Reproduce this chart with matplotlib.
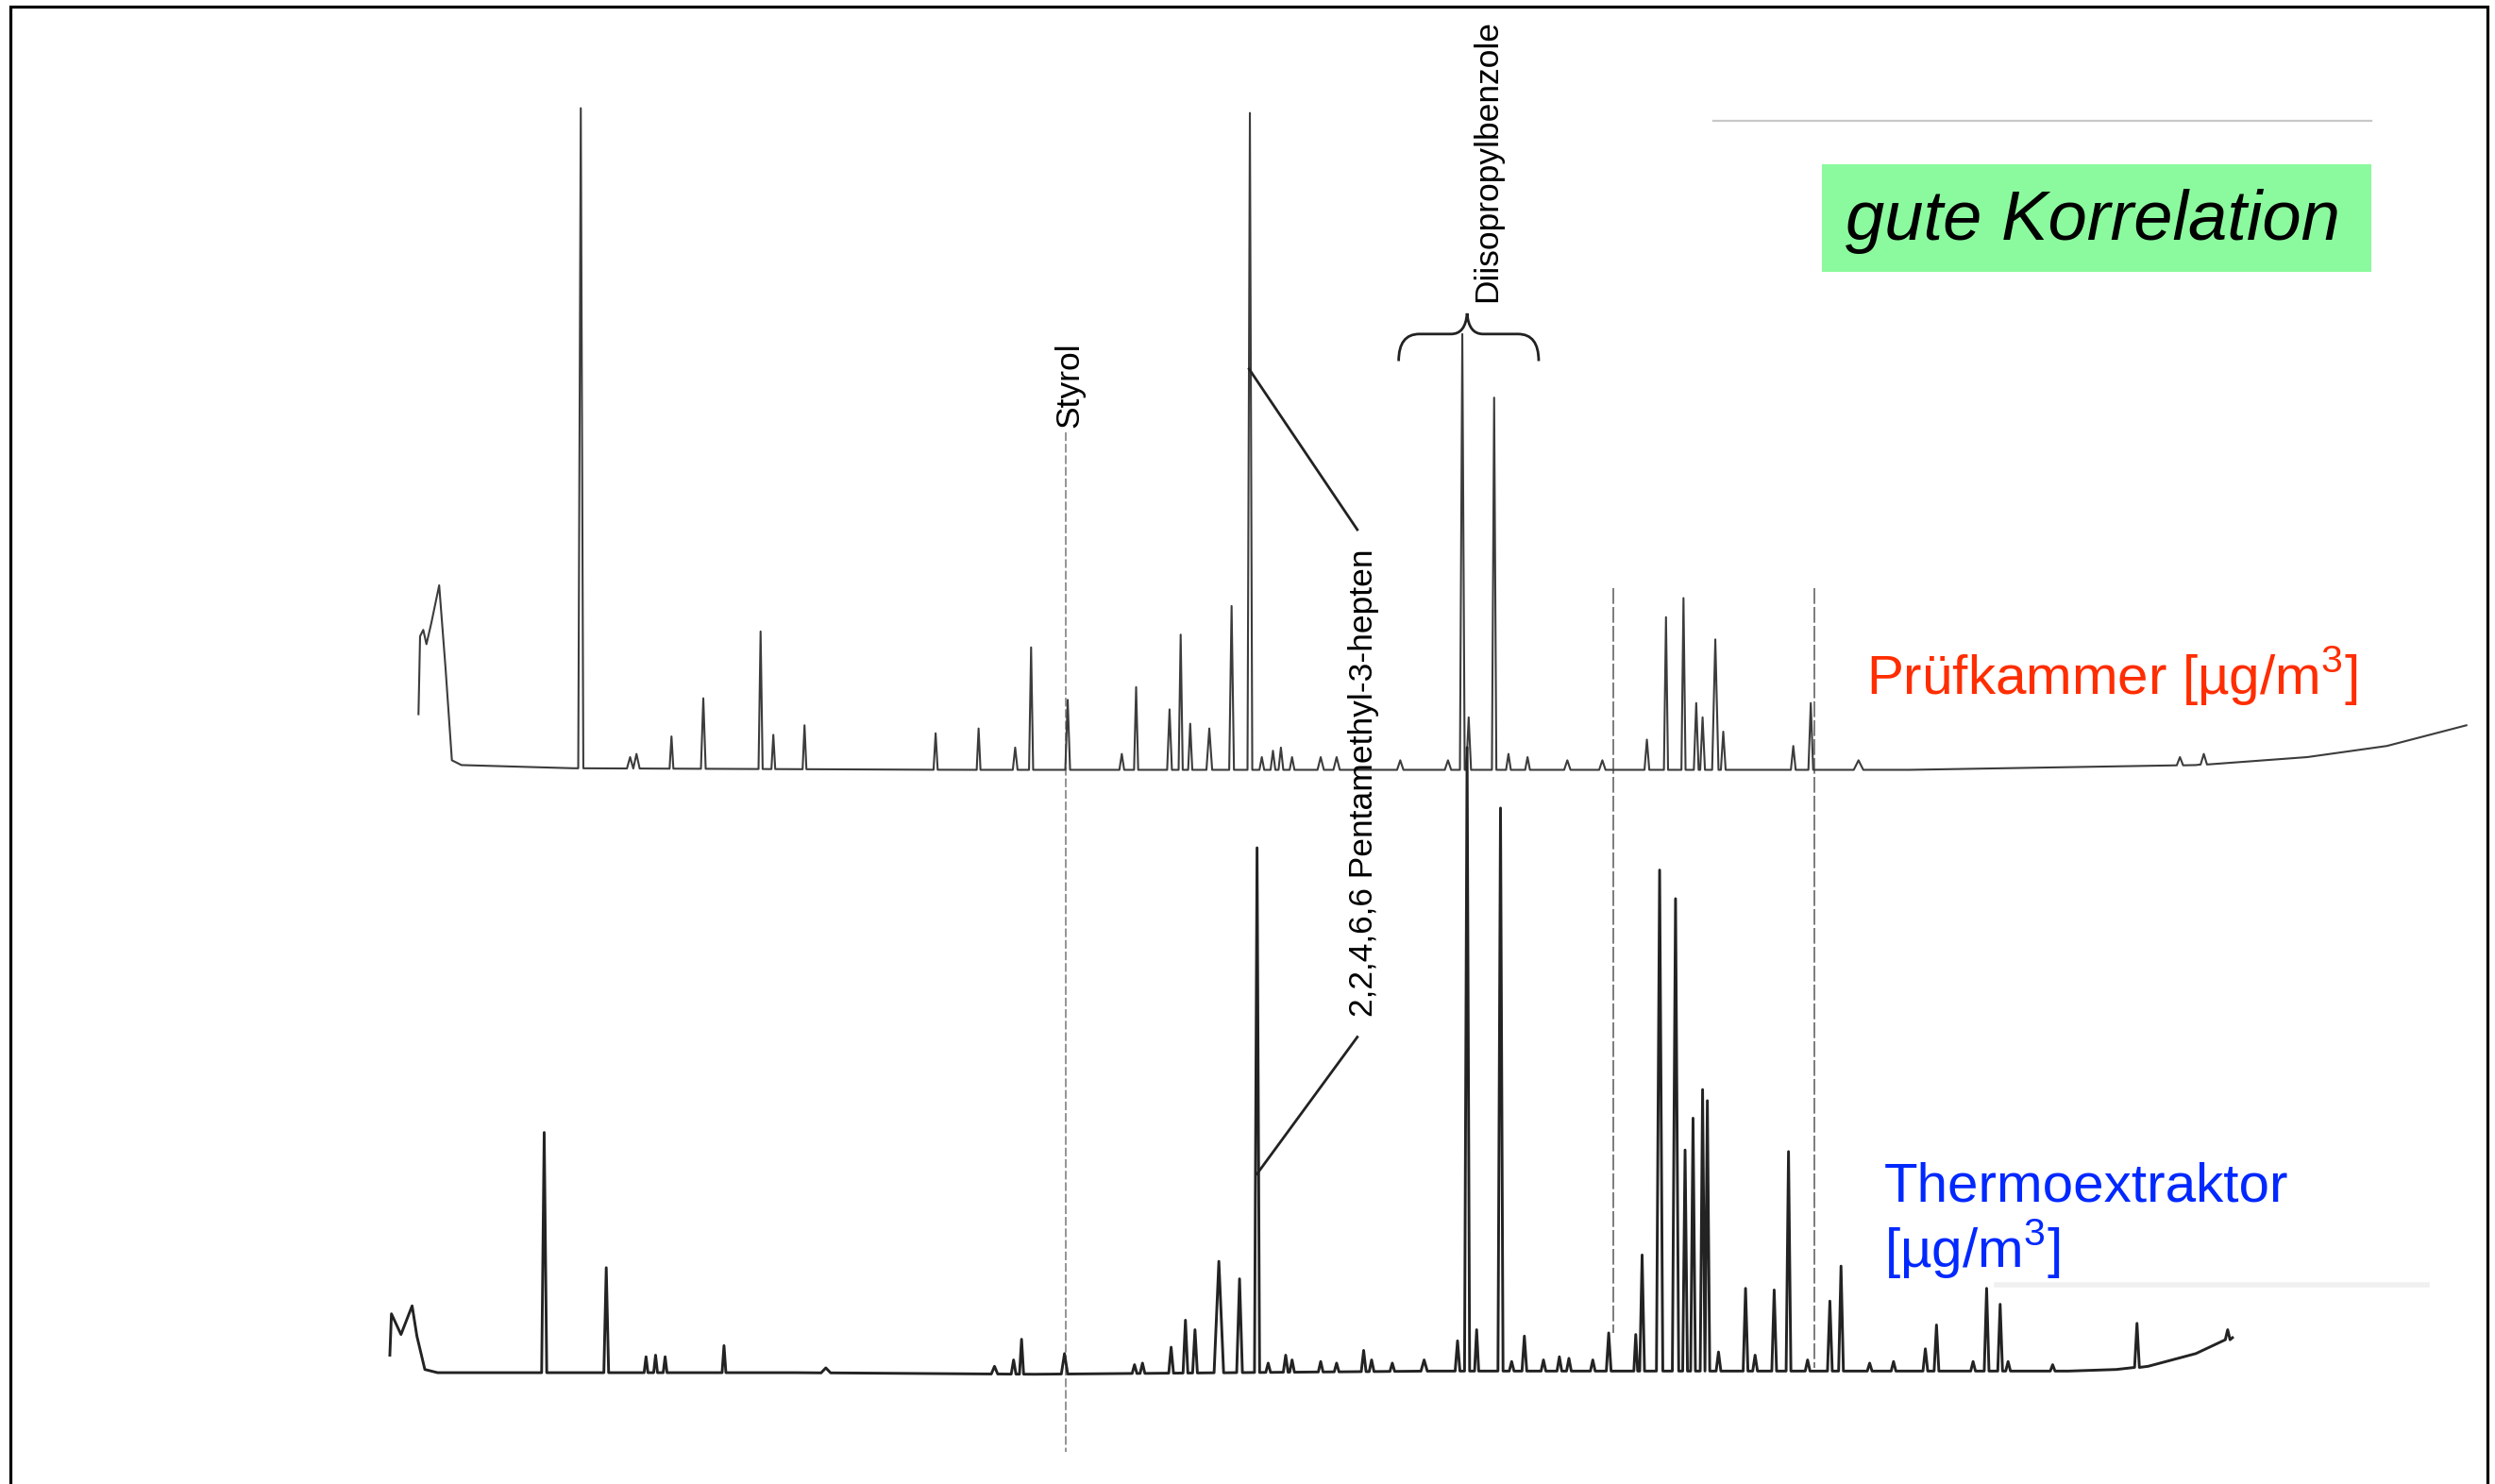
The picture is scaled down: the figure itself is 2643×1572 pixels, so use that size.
import numpy as np
import matplotlib
matplotlib.use("Agg")
import matplotlib.pyplot as plt
from matplotlib.path import Path
from matplotlib.patches import PathPatch, Rectangle

plt.rcParams["font.family"] = ["Liberation Sans", "DejaVu Sans"]
plt.rcParams["mathtext.fontset"] = "custom"
plt.rcParams["mathtext.rm"] = "Liberation Sans"

#=================
# data (page units: x = retention, y = signal level)
#=================
# Pruefkammer trace: baseline knots incl. solvent hump
top_base_x = [263, 264, 266, 268, 271, 276, 280, 284, 290, 360, 600, 900, 1200, 1380, 1450, 1500, 1550]
top_base_y = [449, 400, 396, 405, 392, 368, 420, 478, 481, 483, 484, 484, 484, 481, 476, 469, 456]

top_peak_x = [365, 396, 400, 422, 442, 478, 486, 505.6, 588, 615, 638, 648, 671,
              705, 714, 735, 742, 748, 760, 774, 785.5, 793, 800, 805, 812, 830, 840,
              880, 910, 919, 923, 939, 948, 960, 985, 1007, 1035, 1047, 1058, 1066,
              1070, 1078, 1083, 1127, 1138, 1168, 1370, 1385]
top_peak_y = [68, 476, 474, 463, 439, 397, 462, 456, 461, 458, 470, 407, 440,
              474, 432, 446, 399, 455, 458, 381, 71, 476, 472, 470, 476, 476, 476,
              478, 478, 210, 451, 250, 474, 476, 478, 478, 465, 388, 376, 442,
              451, 402, 460, 469, 442, 478, 476, 474]
top_peak_w = [1.6, 2, 2, 1.2, 1.5, 1.3, 1.2, 1.2, 1.3, 1.2, 1.5, 1.3, 1.5,
              1.5, 1.3, 1.5, 1.3, 1.3, 1.8, 1.5, 1.5, 1.5, 1.5, 1.5, 1.5, 2, 2,
              2, 2, 1.5, 1.5, 1.4, 1.5, 1.5, 2, 2, 1.5, 1.3, 1.3, 1.5,
              1.5, 2, 1.5, 1.5, 1.5, 3, 2, 2]

# Thermoextraktor trace
bot_base_x = [245, 246, 252, 259, 262, 267, 275, 500, 650, 900, 1100, 1300, 1330, 1350, 1380, 1403]
bot_base_y = [852, 826, 839, 821, 840, 861, 863, 863, 864, 862, 862, 862, 861, 859, 851, 841]

bot_peak_x = [342, 381, 406, 412, 418, 455, 519, 625, 637, 642, 669, 713, 718,
              736, 745, 751, 766, 779, 790, 797, 808, 812, 830, 840, 857, 862, 875,
              895, 916, 922, 928, 943, 950, 958, 970, 980, 986, 1001, 1011, 1028,
              1032, 1043, 1053, 1059, 1064, 1070, 1073, 1080, 1097, 1103, 1115, 1124,
              1136, 1150, 1157, 1175, 1190, 1210, 1217, 1240, 1248.5, 1257, 1262,
              1290, 1343, 1400]
bot_peak_y = [712, 797, 853, 852, 853, 846, 860, 859, 855, 842, 851, 858, 857,
              847, 830, 836, 793, 804, 533, 857, 852, 855, 856, 857, 849, 855, 857,
              855, 843, 470, 836, 508, 856, 840, 855, 853, 854, 855, 838, 839,
              789, 547, 565, 723, 703, 685, 692, 850, 810, 852, 811, 724,
              855, 818, 796, 857, 856, 848, 833, 856, 810, 820, 856,
              858, 832, 836]
bot_peak_w = [1.6, 1.5, 1.2, 1.2, 1.2, 1.2, 3, 2, 1.5, 1.3, 2, 1.5, 1.5,
              1.5, 1.5, 1.5, 3, 1.8, 1.6, 1.5, 1.5, 1.5, 1.5, 1.5, 1.5, 1.5, 1.5,
              2, 1.5, 1.6, 1.3, 1.6, 1.5, 1.5, 1.5, 1.5, 1.5, 1.5, 1.5, 1.2,
              1.5, 2, 2, 1.5, 1.5, 1.5, 1.5, 1.5, 1.5, 1.5, 1.5, 1.5,
              1.5, 1.5, 1.5, 1.5, 1.5, 1.5, 1.5, 1.5, 1.5, 1.5, 1.5,
              1.5, 1.5, 1.5]

# compound labels: (name, x, y)
label_names = ["Styrol", "Diisopropylbenzole", "2,2,4,6,6 Pentamethyl-3-hepten"]
label_x = [672, 935, 857]
label_y = [242, 101, 492]


def build_trace(knot_x, knot_y, peak_x, peak_y, peak_w):
    order = np.argsort(peak_x)
    xs, ys = [], []
    k = 0
    for i in order:
        x0 = peak_x[i] - peak_w[i]
        while k < len(knot_x) and knot_x[k] < x0:
            if not xs or knot_x[k] > xs[-1]:
                xs.append(knot_x[k])
                ys.append(knot_y[k])
            k += 1
        b = np.interp(peak_x[i], knot_x, knot_y)
        xs += [x0, peak_x[i], peak_x[i] + peak_w[i]]
        ys += [b, peak_y[i], b]
    while k < len(knot_x):
        if knot_x[k] > xs[-1]:
            xs.append(knot_x[k])
            ys.append(knot_y[k])
        k += 1
    return xs, ys


#=================
# plot
#=================
fig = plt.figure(figsize=(26.43, 15.72), dpi=100)
ax = fig.add_axes([0, 0, 1, 1])
ax.set_xlim(0, 1568)
ax.set_ylim(933, 0)
ax.axis("off")

# page frame
ax.plot([6.5, 6.5, 1563.5, 1563.5], [940, 4.2, 4.2, 940], color="black", lw=2.3,
        solid_joinstyle="miter")

# reference lines through both traces
ax.plot([670, 670], [272, 913], color="#777777", lw=1.1, ls=(0, (6, 2)))
ax.plot([1014, 1014], [370, 838], color="#666666", lw=1.2, ls=(0, (10, 2)))
ax.plot([1140, 1140], [370, 860], color="#666666", lw=1.2, ls=(0, (10, 2)))

# faint leftovers of the scan
ax.plot([1077, 1490], [76, 76], color="#c8c8c8", lw=1.6)
ax.plot([1255, 1525], [808, 808], color="#f0f0f0", lw=4)

tx, ty = build_trace(top_base_x, top_base_y, top_peak_x, top_peak_y, top_peak_w)
ax.plot(tx, ty, color="#3c3c3c", lw=1.5, solid_joinstyle="round")

bx, by = build_trace(bot_base_x, bot_base_y, bot_peak_x, bot_peak_y, bot_peak_w)
ax.plot(bx, by, color="#232323", lw=2.1, solid_joinstyle="round")

# leader lines for pentamethylheptene
ax.plot([785, 853], [232, 333], color="#222222", lw=2.0)
ax.plot([790, 853], [738, 652], color="#222222", lw=2.0)

# brace over the diisopropylbenzole peaks
brace = Path(
    [(879, 227), (879, 210), (892, 210), (912, 210),
     (921, 210), (922, 197), (923, 210), (932, 210),
     (954, 210), (967, 210), (967, 227)],
    [Path.MOVETO, Path.CURVE3, Path.CURVE3, Path.LINETO,
     Path.CURVE3, Path.CURVE3, Path.CURVE3, Path.CURVE3,
     Path.LINETO, Path.CURVE3, Path.CURVE3])
ax.add_patch(PathPatch(brace, facecolor="none", edgecolor="#222222", lw=2.0))

for name, x, y in zip(label_names, label_x, label_y):
    ax.text(x, y, name, rotation=90, ha="center", va="center",
            fontsize=25.5, color="black")

# annotations
ax.add_patch(Rectangle((1145, 103), 345, 68, facecolor="#8BFA9E", edgecolor="none"))
ax.text(1160, 139, "gute Korrelation", style="italic", fontsize=53.5,
        ha="left", va="center", color="black")

ax.text(1173, 437, r"Prüfkammer [µg/m$^{\mathrm{3}}$]", fontsize=42,
        ha="left", va="baseline", color="#FF2D00")
ax.text(1184, 755, "Thermoextraktor", fontsize=42,
        ha="left", va="baseline", color="#0028FF")
ax.text(1184, 797, r"[µg/m$^{\mathrm{3}}$]", fontsize=42,
        ha="left", va="baseline", color="#0028FF")

plt.savefig("out.png", dpi=100)
plt.close()
